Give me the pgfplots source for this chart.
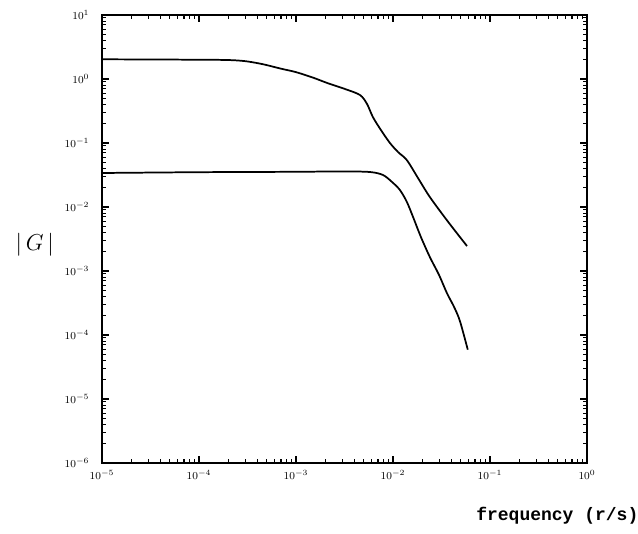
\documentclass[border=0pt]{standalone}
\usepackage{pgfplots}
\pgfplotsset{compat=1.18}
\usepackage{fontspec}
\newfontfamily\monob{Liberation Mono}

\begin{document}
\begin{tikzpicture}[x=1pt,y=1pt]
\begin{axis}[
  at={(76.5pt,52.5pt)}, anchor=south west,
  scale only axis, width=363.75pt, height=336pt,
  xmode=log, ymode=log,
  xmin=1e-5, xmax=1, ymin=1e-6, ymax=10,
  axis line style={line width=1.2pt},
  tick align=inside,
  major tick length=5pt, minor tick length=3pt,
  every tick/.style={black, line width=0.8pt},
  tick label style={font=\footnotesize},
  xtick={1e-5,1e-4,1e-3,1e-2,1e-1,1},
  ytick={1e-6,1e-5,1e-4,1e-3,1e-2,1e-1,1,10},
  xticklabel style={yshift=-2pt},
  yticklabel style={xshift=-6pt},
  clip=false,
]
\addplot[black, line width=1.3pt, smooth, tension=0.5] coordinates {
  (1e-5,2.03) (3e-5,2.02) (1e-4,2.00) (2e-4,1.98) (3e-4,1.90)
  (4.5e-4,1.71) (7e-4,1.45) (1e-3,1.28) (1.5e-3,1.05) (2.1e-3,0.866)
  (3.2e-3,0.698) (4.57e-3,0.562) (5.4e-3,0.407) (6.2e-3,0.255)
  (7.5e-3,0.160) (9.3e-3,0.10) (1.13e-2,0.072) (1.39e-2,0.054)
  (1.81e-2,0.0284) (2.4e-2,0.0143) (3.69e-2,0.0059) (5.8e-2,0.00245)
};
\addplot[black, line width=1.3pt, smooth, tension=0.5] coordinates {
  (1e-5,0.034) (1e-4,0.035) (1e-3,0.0355) (3e-3,0.036) (5.8e-3,0.0352)
  (7.9e-3,0.0316) (9.8e-3,0.0245) (1.18e-2,0.0184) (1.39e-2,0.012)
  (1.61e-2,0.00698) (1.94e-2,0.0034) (2.4e-2,0.00165) (2.98e-2,8.7e-4)
  (3.6e-2,4.5e-4) (4.26e-2,2.75e-4) (4.9e-2,1.65e-4) (5.9e-2,5.9e-5)
};
\end{axis}
\node at (26pt,216pt) {\fontsize{17}{20}\selectfont $|\,G\,|$};
\node at (418pt,12.75pt) {\monob\bfseries\fontsize{13.5}{16}\selectfont frequency (r/s)};
\pgfresetboundingbox
\path (0,0) rectangle (478.5pt,399.75pt);
\end{tikzpicture}
\end{document}
